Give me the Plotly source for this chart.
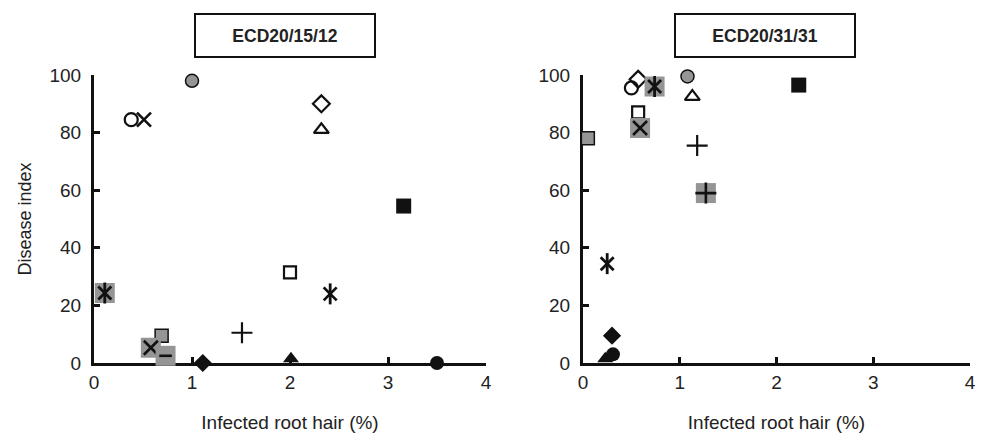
import plotly.graph_objects as go

# ---------------- data ----------------
hosts = ["Host %02d" % i for i in range(1, 18)]
panel_titles = ["ECD20/15/12", "ECD20/31/31"]
x_ticks = [0, 1, 2, 3, 4]
y_ticks = [0, 20, 40, 60, 80, 100]
x_title = "Infected root hair (%)"
y_title = "Disease index"

left_root_hair = [0.38, 0.51, 1.00, 2.32, 2.32, 3.16, 2.00, 2.41, 1.51, 1.11, 2.01, 3.50, 0.69, 0.58, 0.11, None, 0.73]
left_disease = [84.5, 84.5, 98.0, 90.0, 81.0, 54.5, 31.5, 24.0, 10.5, 0.0, 1.5, 0.0, 9.5, 5.3, 24.3, None, 2.5]
right_root_hair = [0.50, None, 1.08, 0.57, 1.13, 2.23, 0.57, 0.25, 1.18, 0.30, 0.23, 0.31, 0.05, 0.59, 0.74, 1.27, None]
right_disease = [95.5, None, 99.5, 98.5, 92.5, 96.5, 87.0, 34.5, 75.5, 9.5, 1.5, 3.0, 78.0, 81.6, 96.0, 59.0, None]

# ---------------- styles ----------------
GRAY = "#959595"
BLK = "#111111"

def open_m(sym, size, lw=2.2):
    return dict(symbol=sym, size=size, color=BLK, line=dict(color=BLK, width=lw))

def filled_m(sym, size, color=BLK, lc=BLK, lw=0):
    return dict(symbol=sym, size=size, color=color, line=dict(color=lc, width=lw))

bg = filled_m("square", 20, GRAY, GRAY, 0)
styles = [
    [open_m("circle-open", 13)],
    [open_m("x-thin-open", 14, 2.6)],
    [filled_m("circle", 13, GRAY, BLK, 1.5)],
    [open_m("diamond-open", 13)],
    [open_m("triangle-up-open", 13)],
    [filled_m("square", 15)],
    [open_m("square-open", 12)],
    [open_m("x-thin-open", 13, 2.8), open_m("line-ns-open", 15, 2.8)],
    [open_m("cross-thin-open", 15, 2.2)],
    [filled_m("diamond", 14)],
    [filled_m("triangle-up", 14)],
    [filled_m("circle", 14)],
    [filled_m("square", 13, GRAY, BLK, 1.5)],
    [bg, open_m("x-thin-open", 14, 2.6)],
    [bg, open_m("x-thin-open", 13, 2.8), open_m("line-ns-open", 15, 2.8)],
    [bg, open_m("cross-thin-open", 15, 2.6)],
    [bg, open_m("line-ew-open", 9, 2.6)],
]

fig = go.Figure()

panels = [(left_root_hair, left_disease, "x", "y"), (right_root_hair, right_disease, "x2", "y2")]
for xs, ys, xa, ya in panels:
    for name, xv, yv, layers in zip(hosts, xs, ys, styles):
        if xv is None:
            continue
        for k, m in enumerate(layers):
            fig.add_trace(go.Scatter(
                x=[xv], y=[yv], mode="markers", name=name, marker=m,
                xaxis=xa, yaxis=ya, cliponaxis=False, showlegend=False,
                hoverinfo="skip" if k < len(layers) - 1 else None))

FONT = "Liberation Sans, Arial, sans-serif"
TXT = "#222222"
axis_common = dict(
    showline=True, linewidth=3, linecolor=BLK, ticks="inside", ticklen=6,
    tickwidth=3, tickcolor=BLK, showgrid=False, zeroline=False, automargin=False,
    tickfont=dict(family=FONT, size=19, color=TXT), layer="below traces",
)

ydom = [(440 - 363) / 440, (440 - 75) / 440]
fig.update_layout(
    width=982, height=440, margin=dict(l=0, r=0, t=0, b=0),
    paper_bgcolor="white", plot_bgcolor="white",
    xaxis=dict(domain=[94 / 982, 486 / 982], range=[0, 4], tickvals=x_ticks,
               title=dict(text=x_title, font=dict(family=FONT, size=19, color=TXT), standoff=24),
               anchor="y", **axis_common),
    yaxis=dict(domain=ydom, range=[0, 100], tickvals=y_ticks, ticklabelstandoff=6,
               title=dict(text=y_title, font=dict(family=FONT, size=18, color=TXT), standoff=14),
               anchor="x", **axis_common),
    xaxis2=dict(domain=[583 / 982, 970 / 982], range=[0, 4], tickvals=x_ticks,
                title=dict(text=x_title, font=dict(family=FONT, size=19, color=TXT), standoff=24),
                anchor="y2", **axis_common),
    yaxis2=dict(domain=ydom, range=[0, 100], tickvals=y_ticks, ticklabelstandoff=6,
                anchor="x2", **axis_common),
)

for title, cx in zip(panel_titles, [285, 765]):
    fig.add_annotation(
        text="<b>%s</b>" % title, xref="paper", yref="paper",
        x=cx / 982, y=(440 - 35.5) / 440, xanchor="center", yanchor="middle",
        showarrow=False, font=dict(family=FONT, size=17.5, color=TXT),
        width=178, height=41, bordercolor=BLK, borderwidth=2, borderpad=0,
        bgcolor="white")

fig.write_html("out.html", config={"displayModeBar": False},
               post_script="document.body.style.margin='0';")
